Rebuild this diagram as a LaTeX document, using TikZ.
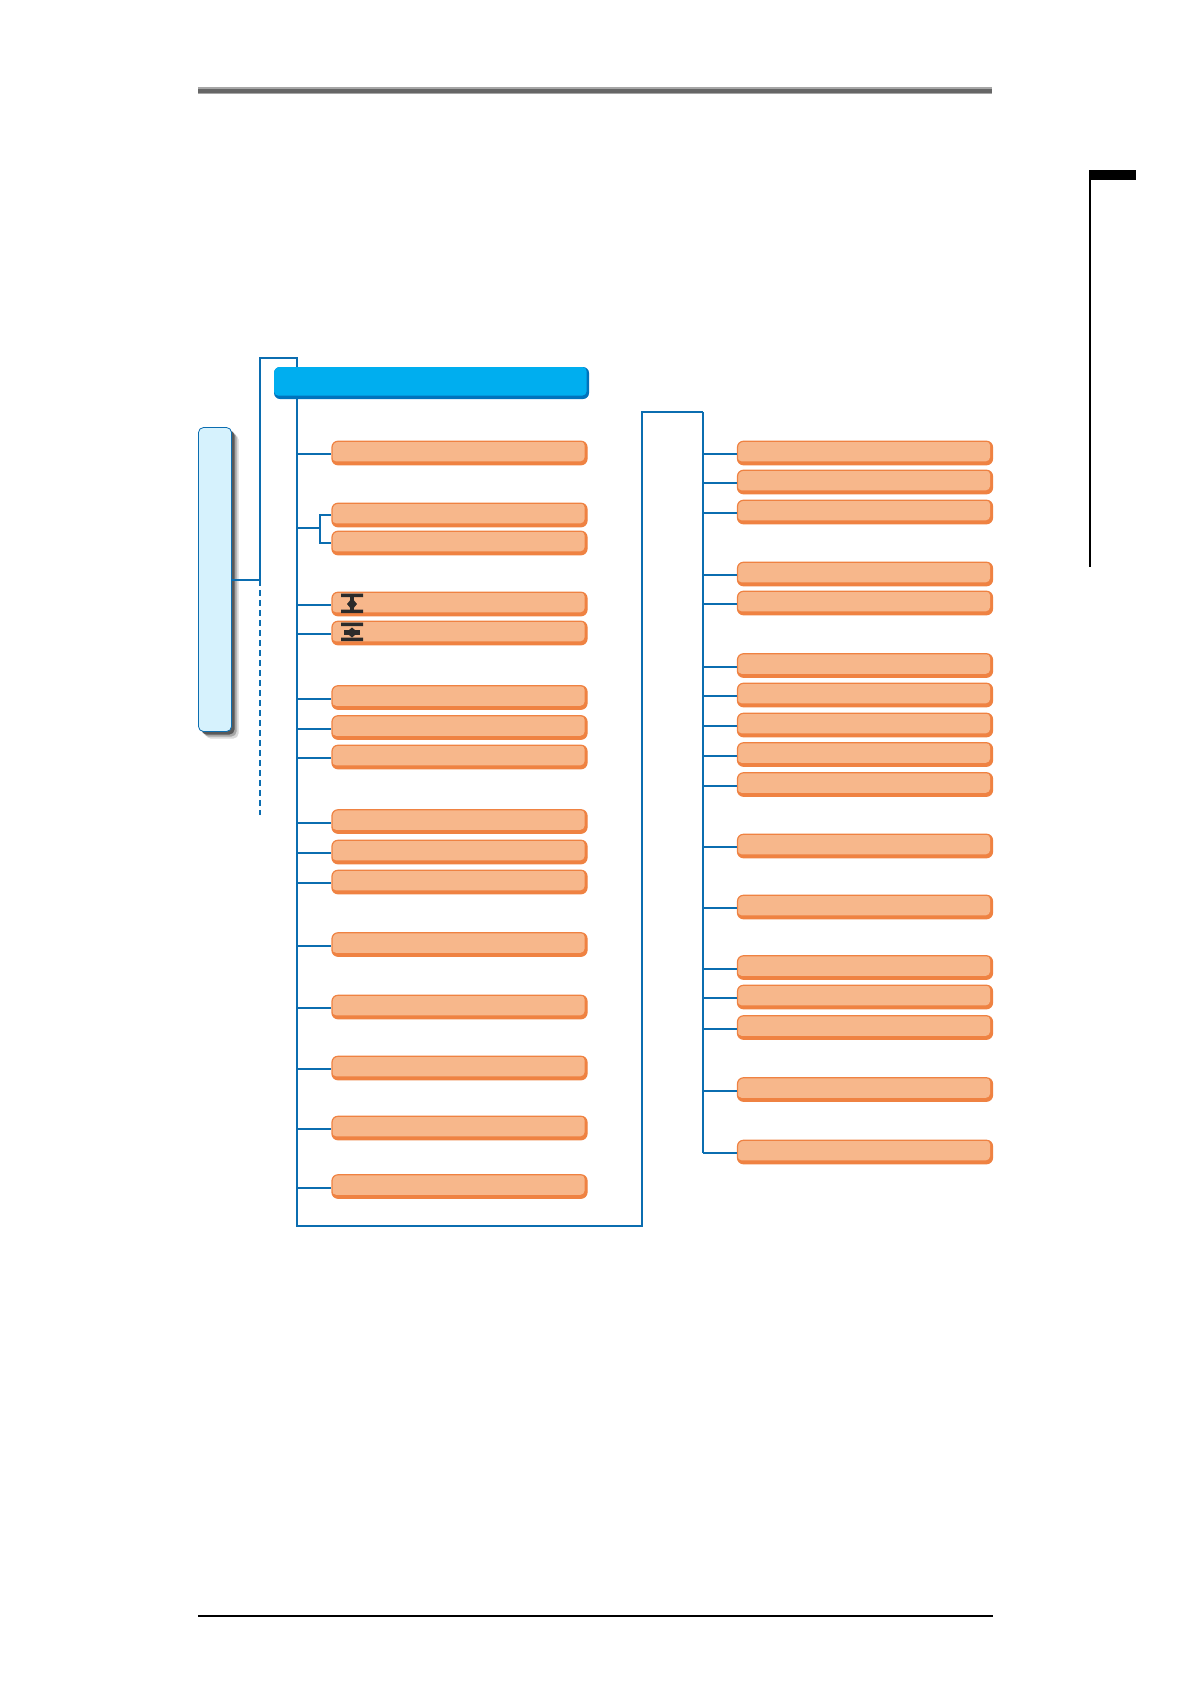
\documentclass[tikz,border=0pt]{standalone}
\usepackage{xcolor}
\usepackage{tikz}
\usetikzlibrary{shadows}
\definecolor{wireblue}{HTML}{0B6DB0}
\definecolor{orglt}{HTML}{F7B78B}
\definecolor{orgdk}{HTML}{EF8242}
\definecolor{hdrlt}{HTML}{00AEEF}
\definecolor{hdrdk}{HTML}{0072BC}
\definecolor{sidelt}{HTML}{D6F2FD}
\definecolor{iconblk}{HTML}{2B2B2B}

\begin{document}
\begin{tikzpicture}[x=1pt,y=-1pt,
      wire/.style={draw=wireblue,line width=2pt},
      stub/.style={wire,transform canvas={yshift=-1pt}},
      bar/.style n args={2}{fill=#2,rounded corners=6pt,inner sep=0pt,
        path picture={\fill[#1,rounded corners=4pt] (path picture bounding box.north west) rectangle ([xshift=-2.5pt,yshift=3.5pt]path picture bounding box.south east);}},
      lbox/.style={bar={orglt}{orgdk},draw=orgdk,line width=1.2pt,minimum width=255pt,minimum height=23.5pt},
      rbox/.style={lbox},
      sidebox/.style={draw=wireblue,line width=0.8pt,fill=sidelt,rounded corners=5pt,minimum width=33pt,minimum height=304pt,inner sep=0pt,
        general shadow={fill=black!15,shadow xshift=7pt,shadow yshift=-7pt},
        general shadow={fill=black!35,shadow xshift=5pt,shadow yshift=-5pt},
        general shadow={fill=black!65,shadow xshift=3pt,shadow yshift=-3pt}},
      iconbar/.style={fill=iconblk,draw=none}]
    \useasboundingbox (0,0) rectangle (1191,1684);
    % page furniture
    \fill[black!35] (198,87) rectangle (992,94);
    \fill[black!60] (198,88.5) rectangle (992,92.5);
    \fill[black] (198,1614.5) rectangle (993,1616.5);
    \fill[black] (1089,170) rectangle (1136,180);
    \fill[black] (1089,180) rectangle (1091,567);
    % side box and fork
    \node[sidebox] (side) at (215,579.5) {};
    \coordinate (fork) at (260,580);
    \coordinate (forktop) at (260,358);
    \coordinate (trunktop) at (297,358);
    \coordinate (trunkend) at (297,1226);
    \coordinate (dashend) at (260,815);
    \coordinate (turn) at (642,1226);
    \coordinate (turntop) at (642,412);
    \coordinate (rtop) at (703,412);
    \draw[wire] (side.east |- fork) -- (fork) -- (forktop) -- (trunktop) -- (trunkend) -- (turn) -- (turntop) -- (rtop);
    \draw[wire,dash pattern=on 6pt off 4pt] (fork) -- (dashend);
    \node[bar={hdrlt}{hdrdk},minimum width=315pt,minimum height=32pt] (hdr) at (431.5,383) {};
    % left column
    \foreach \i/\ly in {1/453,2/515,3/543,4/604,5/633,6/697.5,7/727.5,8/757,9/821.5,10/852,11/882,12/944.5,13/1007,14/1068,15/1128,16/1186.5} {
      \node[lbox] (l\i) at (459.5,\ly) {};
    }
    \foreach \i in {1,4,5,6,7,8,9,10,11,12,13,14,15,16} { \draw[stub] (trunktop |- l\i.west) -- (l\i.west); }
    % the pair shares one branch
    \coordinate (pair) at (320,528);
    \draw[wire] (trunktop |- pair) -- (pair);
    \draw[wire] (l2.west) -- (pair |- l2.west) -- (pair |- l3.west) -- (l3.west);
    % right column
    \foreach \k/\ry in {1/453,2/482,3/512,4/574,5/603,6/665.5,7/695,8/725,9/754.5,10/784.5,11/846,12/907,13/967.5,14/997,15/1027.5,16/1089.5,17/1152} {
      \node[rbox] (r\k) at (865,\ry) {};
      \draw[stub] (rtop |- r\k.west) -- (r\k.west);
    }
    \draw[wire] (rtop) -- ([yshift=-1pt]rtop |- r17.west);
    % valve icons
    \fill[iconbar] (341,593.5) rectangle (363,597) (341,609.5) rectangle (363,613);
    \fill[iconbar] (350,597) rectangle (354,610);
    \fill[iconbar] (352,598) -- (357,604) -- (352,610) -- (347,604) -- cycle;
    \fill[iconbar] (341,622.5) rectangle (363,626) (341,637.5) rectangle (363,641);
    \fill[iconbar] (344,630) rectangle (360,634.5);
    \fill[iconbar] (352,627.5) -- (358,632.5) -- (352,637.5) -- (346,632.5) -- cycle;
  \end{tikzpicture}
\end{document}
